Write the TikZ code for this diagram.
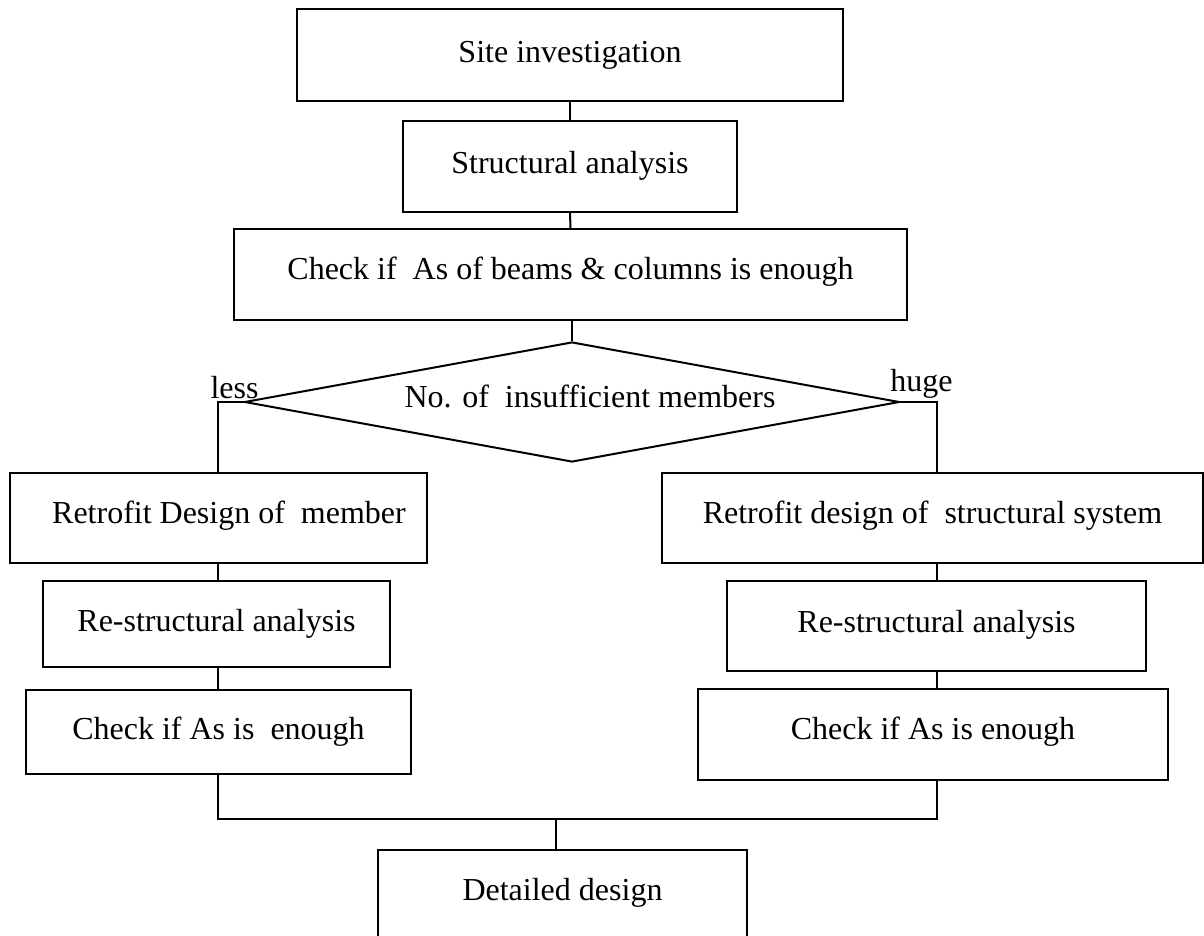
\documentclass[tikz,border=0pt]{standalone}
\usepackage{fontspec}
\setmainfont{Liberation Serif}
\usetikzlibrary{shapes.geometric,calc}
\begin{document}
\begin{tikzpicture}[x=1pt,y=-1pt,
  every node/.style={font=\fontsize{32}{38}\selectfont},
  box/.style n args={2}{draw, line width=2pt, inner sep=0pt, minimum width=#1, minimum height=#2, text height=22pt, text depth=7pt},
  lbl/.style={inner sep=0pt, text height=22pt, text depth=7pt},
  conn/.style={line width=2pt}]
\clip (0,0) rectangle (1204,936);
% boxes
\node[box={546pt}{92pt}] (site) at (570,55) {Site investigation};
\node[box={334pt}{91pt}] (struct) at (570,166.5) {Structural analysis};
\node[box={673pt}{91pt}, text depth=13pt] (check) at (570.5,274.5) {Check if\ \ As of beams \& columns is enough};
\node[draw, diamond, line width=2pt, inner sep=0pt, minimum width=655pt, minimum height=120pt, aspect=5.46,
  label={[lbl, xshift=18pt, yshift=2.5pt]center:No. of\ \ insufficient members}] (dia) at (572,402) {};
\node[box={417pt}{90pt}, text depth=12pt] (retroL) at (218.5,518) {\hspace*{21pt}Retrofit Design of\ \ member};
\node[box={347pt}{86pt}] (restrL) at (216.5,624) {Re-structural analysis};
\node[box={385pt}{84pt}] (checkL) at (218.5,732) {Check if As is\ \ enough};
\node[box={541pt}{90pt}, text depth=12pt] (retroR) at (932.5,518) {Retrofit design of\ \ structural system};
\node[box={419pt}{90pt}, text depth=10pt] (restrR) at (936.5,626) {Re-structural analysis};
\node[box={470pt}{91pt}, text depth=13pt] (checkR) at (933,734.5) {Check if As is enough};
\node[box={369pt}{100pt}, text depth=22pt] (detail) at (562.5,900) {Detailed design};
% branch labels
\node[lbl] (less) at (234.5,390.5) {less};
\node[lbl] (huge) at (921.5,383.5) {huge};
% coordinates
\coordinate (lcol) at (218,0);
\coordinate (rcol) at (937,0);
\coordinate (jl) at (218,819);
\coordinate (jr) at (937,819);
\coordinate (jm) at (556,819);
% connectors
\draw[conn] (site.south) -- (struct.north);
\draw[conn] (struct.south) -- (check.north);
\draw[conn] (dia.north |- check.south) -- (dia.north);
\draw[conn] (dia.west) -| (retroL.north -| lcol);
\draw[conn] (dia.east) -| (retroR.north -| rcol);
\draw[conn] (retroL.south -| lcol) -- (restrL.north -| lcol);
\draw[conn] (restrL.south -| lcol) -- (checkL.north -| lcol);
\draw[conn] (retroR.south -| rcol) -- (restrR.north -| rcol);
\draw[conn] (restrR.south -| rcol) -- (checkR.north -| rcol);
\draw[conn] (checkL.south -| lcol) -- (jl) -- (jr) -- (checkR.south -| rcol);
\draw[conn] (jm) -- (detail.north -| jm);
\end{tikzpicture}
\end{document}
